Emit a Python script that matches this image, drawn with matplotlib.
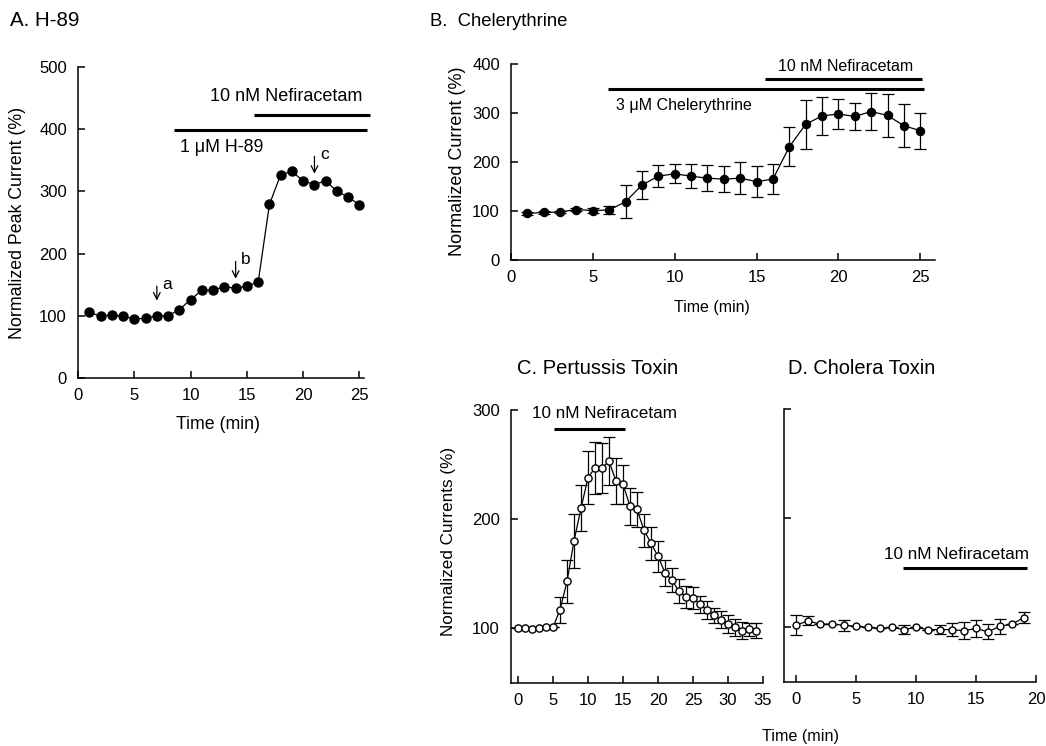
import numpy as np
import matplotlib
matplotlib.use("Agg")
import matplotlib.pyplot as plt

plt.rcParams["font.family"] = ["Liberation Sans", "DejaVu Sans"]
plt.rcParams["font.size"] = 12

# panel A: H-89
time_a = np.arange(1, 26)
cur_a = [106, 99, 102, 99, 95, 96, 100, 100, 110, 126, 141, 141, 147, 144, 148, 154,
         279, 327, 332, 317, 311, 317, 300, 291, 278]

# panel B: chelerythrine
time_b = np.arange(1, 26)
cur_b = [95, 97, 98, 103, 101, 102, 119, 153, 171, 176, 171, 167, 165, 167, 160, 165,
         231, 277, 294, 298, 293, 303, 295, 274, 264]
err_b = [3, 3, 3, 4, 6, 8, 34, 29, 23, 19, 25, 27, 27, 33, 31, 30,
         40, 50, 39, 30, 28, 37, 43, 44, 37]

# panel C: pertussis toxin
time_c = np.arange(0, 35)
cur_c = [100, 100, 99, 100, 101, 101, 117, 143, 180, 210, 238, 247, 247, 253, 235, 232,
         212, 209, 190, 178, 166, 151, 144, 134, 129, 128, 122, 117, 112, 108, 104, 101,
         98, 99, 98]
err_c = [0, 0, 0, 0, 0, 0, 12, 20, 25, 21, 24, 24, 23, 22, 21, 18,
         17, 16, 15, 15, 14, 12, 11, 11, 10, 10, 8, 8, 7, 8, 8, 8,
         8, 6, 7]

# panel D: cholera toxin
time_d = np.arange(0, 20)
cur_d = [102, 106, 103, 103, 102, 101, 100, 99, 100, 98, 100, 98, 98, 98, 97, 99, 96, 101, 103, 109]
err_d = [9, 4, 0, 0, 5, 0, 0, 0, 0, 4, 0, 0, 4, 6, 8, 8, 7, 7, 0, 5]

W, H = 1046, 746
fig = plt.figure(figsize=(W / 100, H / 100), dpi=100)


def ax_px(l, t, r, b):
    return fig.add_axes([l / W, 1 - b / H, (r - l) / W, (b - t) / H])


def style(ax):
    for s in ["top", "right"]:
        ax.spines[s].set_visible(False)
    for s in ["left", "bottom"]:
        ax.spines[s].set_linewidth(1.1)
    ax.tick_params(direction="in", length=5, width=1.1, labelsize=12)
    ax.tick_params(axis="y", pad=8)
    ax.tick_params(axis="x", pad=7)


def drug_bar(ax, x0, x1, y):
    ax.plot([x0, x1], [y, y], color="black", lw=2.2, clip_on=False, solid_capstyle="butt")


# ---- A ----
axA = ax_px(78, 67, 364, 378)
style(axA)
axA.plot(time_a, cur_a, "-o", color="black", ms=6.5, lw=0.9)
axA.set_xlim(0, 25.4)
axA.set_ylim(0, 500)
axA.set_xticks([0, 5, 10, 15, 20, 25])
axA.set_yticks([0, 100, 200, 300, 400, 500])
axA.set_xlabel("Time (min)", fontsize=12.8, va="center")
axA.set_ylabel("Normalized Peak Current (%)", fontsize=12.8, va="center")
axA.xaxis.set_label_coords(0.49, -0.151)
axA.yaxis.set_label_coords(-0.21, 0.50)
drug_bar(axA, 8.5, 25.7, 398)
drug_bar(axA, 15.6, 25.9, 423)
axA.text(25.3, 452, "10 nM Nefiracetam", ha="right", va="center", fontsize=13)
axA.text(9.1, 371, "1 \u03bcM H-89", ha="left", va="center", fontsize=12.8)
for xa, y0, y1, lab in [(7, 152, 120, "a"), (14, 192, 155, "b"), (21, 361, 324, "c")]:
    axA.annotate("", xy=(xa, y1), xytext=(xa, y0),
                 arrowprops=dict(arrowstyle="->", lw=0.9, color="black"))
    axA.text(xa + 0.5, y0 - 2, lab, ha="left", va="center", fontsize=12.5)
fig.text(10 / W, 1 - 20 / H, "A. H-89", ha="left", va="center", fontsize=14.8)

# ---- B ----
axB = ax_px(511, 64, 935, 260)
style(axB)
axB.errorbar(time_b, cur_b, yerr=err_b, fmt="-o", color="black", ms=5.8, lw=0.9,
             elinewidth=0.9, capsize=4, capthick=0.9)
axB.set_xlim(0, 25.9)
axB.set_ylim(0, 400)
axB.set_xticks([0, 5, 10, 15, 20, 25])
axB.set_yticks([0, 100, 200, 300, 400])
axB.set_xlabel("Time (min)", fontsize=11.5, va="center")
axB.set_ylabel("Normalized Current (%)", fontsize=13, va="center")
axB.xaxis.set_label_coords(0.474, -0.24)
axB.yaxis.set_label_coords(-0.125, 0.505)
drug_bar(axB, 5.9, 25.2, 350)
drug_bar(axB, 15.5, 25.1, 369)
axB.text(16.3, 395, "10 nM Nefiracetam", ha="left", va="center", fontsize=11.5)
axB.text(6.4, 316, "3 \u03bcM Chelerythrine", ha="left", va="center", fontsize=11.5)
fig.text(430 / W, 1 - 22 / H, "B.  Chelerythrine", ha="left", va="center", fontsize=13.3)

# ---- C ----
axC = ax_px(511, 410, 763, 683)
style(axC)
axC.errorbar(time_c, cur_c, yerr=err_c, fmt="-o", color="black", mfc="white", mec="black",
             ms=5.2, lw=0.9, elinewidth=0.9, capsize=4, capthick=0.9)
axC.set_xlim(-1, 35)
axC.set_ylim(50, 300)
axC.set_xticks([0, 5, 10, 15, 20, 25, 30, 35])
axC.set_yticks([100, 200, 300])
axC.set_ylabel("Normalized Currents (%)", fontsize=12.3, va="center")
axC.yaxis.set_label_coords(-0.25, 0.52)
drug_bar(axC, 5.1, 15.3, 283)
axC.text(12.4, 297, "10 nM Nefiracetam", ha="center", va="center", fontsize=12.3)
fig.text(517 / W, 1 - 368 / H, "C. Pertussis Toxin", ha="left", va="center", fontsize=14.5)

# ---- D ----
axD = ax_px(784, 409, 1036, 682)
style(axD)
axD.errorbar(time_d, cur_d, yerr=err_d, fmt="-o", color="black", mfc="white", mec="black",
             ms=5, lw=0.9, elinewidth=0.9, capsize=4, capthick=0.9)
axD.set_xlim(-1, 20)
axD.set_ylim(50, 300)
axD.set_xticks([0, 5, 10, 15, 20])
axD.set_yticks([100, 200, 300])
axD.set_yticklabels([])
drug_bar(axD, 8.9, 19.25, 154)
axD.text(13.4, 167, "10 nM Nefiracetam", ha="center", va="center", fontsize=12.3)
fig.text(788 / W, 1 - 368 / H, "D. Cholera Toxin", ha="left", va="center", fontsize=14.4)

fig.text(800 / W, 1 - 737 / H, "Time (min)", ha="center", va="center", fontsize=11.6)

fig.savefig("out.png", dpi=100)
